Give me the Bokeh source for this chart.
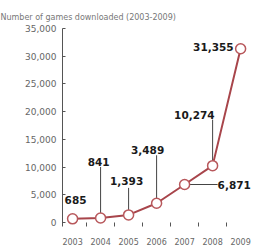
import math
from bokeh.plotting import figure
from bokeh.models import ColumnDataSource, FixedTicker, NumeralTickFormatter, Range1d
from bokeh.core.properties import value
from bokeh.embed import file_html
from bokeh.resources import INLINE

# ---- data ----
years = [2003, 2004, 2005, 2006, 2007, 2008, 2009]
counts = [685, 841, 1393, 3489, 6871, 10274, 31355]
count_labels = ["685", "841", "1,393", "3,489", "6,871", "10,274", "31,355"]
y_ticks = [0, 5000, 10000, 15000, 20000, 25000, 30000, 35000]
year_labels = ["2003", "2004", "2005", "2006", "2007", "2008", "2009"]
title_text = "Number of games downloaded (2003-2009)"

# ---- label placement (screen pixels) ----
lab_dx = [3, -2, -2, -9, 33, 2, -7]
lab_dy = [-19, -56, -34, -53, 0, -51, -2]
lab_align = ["center", "center", "center", "center", "left", "right", "right"]
lead_len = [0, 51, 27, 48, 33, 46, 0]
lead_ang = [math.pi / 2, math.pi / 2, math.pi / 2, math.pi / 2, 0.0, math.pi / 2, math.pi / 2]

src = ColumnDataSource(dict(x=years, y=counts, lab=count_labels, dx=lab_dx, dy=lab_dy,
                            align=lab_align))
keep = [i for i, l in enumerate(lead_len) if l > 0]
lead_src = ColumnDataSource(dict(x=[years[i] for i in keep], y=[counts[i] for i in keep],
                                 ll=[lead_len[i] for i in keep], ang=[lead_ang[i] for i in keep]))

p = figure(width=253, height=247, output_backend="svg", toolbar_location=None,
           x_range=Range1d(2002.64, 2009.46), y_range=Range1d(-700, 35000),
           min_border_left=62, min_border_right=0, min_border_top=28, min_border_bottom=17,
           title=title_text)
p.title.text_font = "DejaVu Sans"
p.title.text_font_size = "8px"
p.title.text_font_style = "normal"
p.title.text_color = "#777777"
p.title.offset = -62
p.title.standoff = 14
p.outline_line_color = None
p.xgrid.visible = False
p.ygrid.visible = False
p.background_fill_color = "white"
p.border_fill_color = "white"

# y axis
p.yaxis.ticker = FixedTicker(ticks=y_ticks)
p.yaxis.formatter = NumeralTickFormatter(format="0,0")
p.yaxis.axis_line_color = "#555555"
p.yaxis.major_tick_line_color = "#555555"
p.yaxis.major_tick_in = 3
p.yaxis.major_tick_out = 0
p.yaxis.minor_tick_line_color = None
p.yaxis.major_label_text_font = "DejaVu Sans"
p.yaxis.major_label_text_font_size = "9px"
p.yaxis.major_label_text_color = "#666666"
p.yaxis.major_label_standoff = 6

# x axis
mids = [y + 0.5 for y in years[:-1]]
p.xaxis.ticker = FixedTicker(ticks=years, minor_ticks=mids)
p.xaxis.major_label_overrides = {y: s for y, s in zip(years, year_labels)}
p.xaxis.axis_line_color = None
p.xaxis.major_tick_line_color = None
p.xaxis.minor_tick_line_color = "#555555"
p.xaxis.minor_tick_in = 4
p.xaxis.minor_tick_out = 0
p.xaxis.major_label_text_font = "DejaVu Sans"
p.xaxis.major_label_text_font_size = "8px"
p.xaxis.major_label_text_color = "#666666"
p.xaxis.major_label_standoff = 5

# leaders
p.ray(x="x", y="y", length="ll", angle="ang", length_units="screen", source=lead_src,
      line_color="#444444", line_width=1)
# line and markers
p.line(x="x", y="y", source=src, line_color="#a8454b", line_width=2)
p.scatter(x="x", y="y", source=src, size=10, fill_color="white",
          line_color="#b8585c", line_width=1.5)
# value labels
p.text(x="x", y="y", text="lab", x_offset="dx", y_offset="dy", text_align="align",
       text_baseline="middle", source=src, text_font=value("DejaVu Sans"),
       text_font_style="bold", text_font_size="10.5px", text_color="#1a1a1a")

open("out.html", "w").write(file_html(p, INLINE))
